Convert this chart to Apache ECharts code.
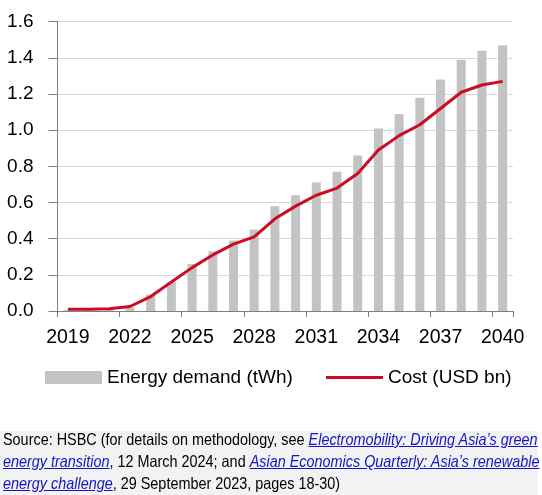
<!DOCTYPE html>
<html>
<head>
<meta charset="utf-8">
<script src="https://cdn.jsdelivr.net/npm/echarts@6/dist/echarts.min.js"></script>
<style>
  html, body { margin: 0; padding: 0; background: #ffffff; }
  #chart { width: 542px; height: 495px; position: absolute; left: 0; top: 0; }
  #sourceBg { position: absolute; left: 0; top: 431px; width: 538px; height: 64px; background: #f2f2f2; }
  #source {
    position: absolute; left: 3px; top: 428px;
    transform: scaleX(0.873); transform-origin: 0 0;
    font-family: 'Liberation Sans', Arial, sans-serif;
    font-size: 16.5px; line-height: 22px; color: #000; white-space: nowrap;
  }
  #source a { color: #1414c4; font-style: italic; text-decoration: underline; }
</style>
</head>
<body>
<div id="chart"></div>
<div id="sourceBg"></div>
<div id="source">Source: HSBC (for details on methodology, see <a>Electromobility: Driving Asia’s green</a><br><a>energy transition</a>, 12 March 2024; and <a>Asian Economics Quarterly: Asia’s renewable</a><br><a>energy challenge</a>, 29 September 2023, pages 18-30)</div>
<script>
const years = ['2019','2020','2021','2022','2023','2024','2025','2026','2027','2028','2029',
               '2030','2031','2032','2033','2034','2035','2036','2037','2038','2039','2040'];
const energyDemand = [0.005,0.006,0.008,0.02,0.09,0.16,0.26,0.33,0.39,0.45,0.58,
                      0.64,0.71,0.77,0.86,1.01,1.09,1.18,1.28,1.39,1.44,1.47];
const cost = [0.01,0.01,0.012,0.025,0.08,0.16,0.24,0.31,0.37,0.41,0.51,
              0.58,0.64,0.68,0.76,0.89,0.97,1.03,1.12,1.21,1.25,1.27];
const yTicks = { min: 0, max: 1.6, interval: 0.2 };

const FONT = "'Liberation Sans', Arial, sans-serif";
const RED = '#cc0c24';
const chart = echarts.init(document.getElementById('chart'), null, { renderer: 'canvas' });
chart.setOption({
  animation: false,
  textStyle: { fontFamily: FONT },
  grid: { left: 57.5, right: 29, top: 21.7, bottom: 184, containLabel: false },
  legend: [
    {
      top: 363, left: 40,
      itemWidth: 57, itemHeight: 13, itemGap: 5,
      textStyle: { fontFamily: FONT, fontSize: 19, color: '#000' },
      data: [{ name: 'Energy demand (tWh)', icon: 'rect' }]
    },
    {
      top: 363, left: 321,
      itemWidth: 57, itemHeight: 13, itemGap: 5,
      textStyle: { fontFamily: FONT, fontSize: 19, color: '#000' },
      data: [{ name: 'Cost (USD bn)', icon: 'path://M0,0 L100,0 L100,5 L0,5 Z',
               itemStyle: { color: RED, borderWidth: 0 } }]
    }
  ],
  xAxis: {
    type: 'category',
    data: years,
    boundaryGap: true,
    axisLine: { lineStyle: { color: '#808080', width: 1 } },
    axisTick: { show: true, interval: 2, length: 6, lineStyle: { color: '#808080' } },
    axisLabel: { interval: 2, margin: 17, fontSize: 19.5, color: '#000', fontFamily: FONT }
  },
  yAxis: {
    type: 'value',
    min: yTicks.min, max: yTicks.max, interval: yTicks.interval,
    axisLine: { show: true, lineStyle: { color: '#808080', width: 1 } },
    axisTick: { show: true, length: 9, inside: false, lineStyle: { color: '#808080' } },
    axisLabel: { margin: 24, fontSize: 19, color: '#000', fontFamily: FONT,
                 formatter: v => v.toFixed(1) },
    splitLine: { show: true, lineStyle: { color: '#d9d9d9', width: 1 } }
  },
  series: [
    {
      name: 'Energy demand (tWh)', type: 'bar', data: energyDemand,
      barWidth: 9, itemStyle: { color: '#c3c3c3' }
    },
    {
      name: 'Cost (USD bn)', type: 'line', data: cost,
      symbol: 'none', smooth: false,
      lineStyle: { color: RED, width: 3 },
      itemStyle: { color: RED }
    }
  ]
});
</script>
</body>
</html>
